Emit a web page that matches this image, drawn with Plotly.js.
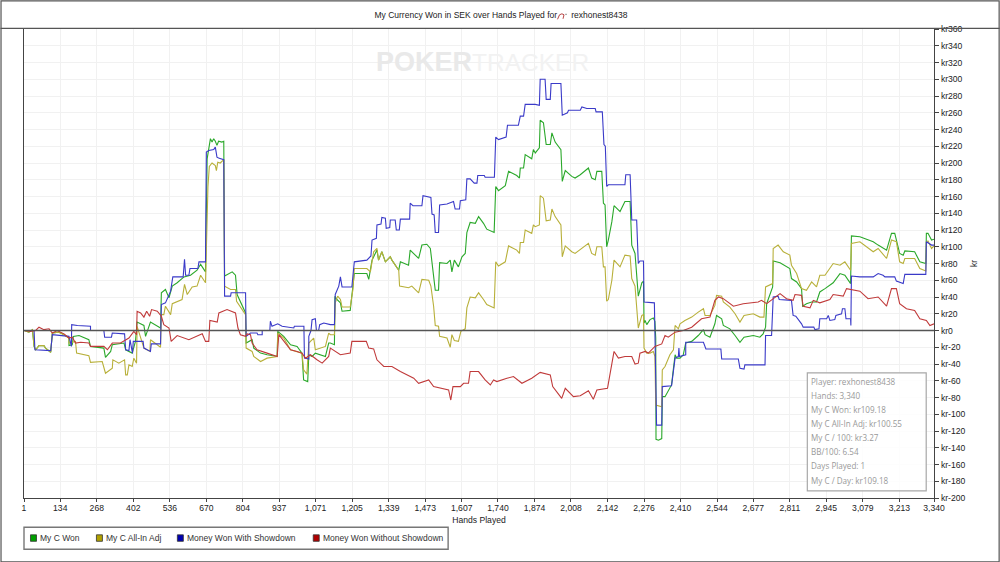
<!DOCTYPE html>
<html><head><meta charset="utf-8">
<script src="https://cdn.plot.ly/plotly-3.0.1.min.js"></script>
<style>html,body{margin:0;padding:0;background:#fff}#c{width:1000px;height:562px}</style>
</head><body><div id="c"></div>
<script>
const titleText = "My Currency Won in SEK over Hands Played for &nbsp;&nbsp;&nbsp;&nbsp; rexhonest8438";
const xTickVals = [1,134,268,402,536,670,804,937,1071,1205,1339,1473,1607,1740,1874,2008,2142,2276,2410,2544,2677,2811,2945,3079,3213,3340];
const xTickText = ["1","134","268","402","536","670","804","937","1,071","1,205","1,339","1,473","1,607","1,740","1,874","2,008","2,142","2,276","2,410","2,544","2,677","2,811","2,945","3,079","3,213","3,340"];
const yTickVals = [-200,-180,-160,-140,-120,-100,-80,-60,-40,-20,0,20,40,60,80,100,120,140,160,180,200,220,240,260,280,300,320,340,360];
const yTickText = ["kr-200","kr-180","kr-160","kr-140","kr-120","kr-100","kr-80","kr-60","kr-40","kr-20","kr0","kr20","kr40","kr60","kr80","kr100","kr120","kr140","kr160","kr180","kr200","kr220","kr240","kr260","kr280","kr300","kr320","kr340","kr360"];
const seriesNames = ["My C Won","My C All-In Adj","Money Won With Showdown","Money Won Without Showdown"];
const statLines = ["Player: rexhonest8438","Hands: 3,340","My C Won: kr109.18","My C All-In Adj: kr100.55","My C / 100: kr3.27","BB/100: 6.54","Days Played: 1","My C / Day: kr109.18"];

const wonHands = [1,19,32,38,44,56,74,80,99,105,129,148,166,166,178,182,203,239,245,294,300,319,325,368,374,386,398,410,416,441,447,465,502,505,520,533,545,563,588,612,636,649,667,673,685,691,697,703,709,715,727,734,737,765,777,783,814,816,838,844,869,893,930,932,954,979,1003,1021,1027,1042,1046,1058,1070,1107,1119,1125,1140,1142,1149,1162,1168,1198,1204,1213,1259,1266,1278,1296,1302,1314,1327,1345,1351,1376,1382,1412,1418,1431,1449,1461,1479,1492,1504,1510,1522,1526,1553,1565,1571,1580,1595,1608,1620,1626,1638,1657,1669,1687,1699,1726,1732,1742,1767,1779,1809,1819,1822,1834,1840,1864,1870,1877,1892,1895,1907,1917,1932,1938,1950,1971,1976,1987,2011,2023,2042,2072,2084,2097,2103,2121,2127,2133,2139,2145,2158,2166,2188,2206,2225,2231,2243,2255,2268,2274,2276,2280,2286,2298,2310,2316,2319,2320,2329,2341,2343,2344,2353,2371,2377,2384,2390,2396,2408,2420,2429,2451,2475,2494,2500,2518,2536,2542,2561,2567,2591,2610,2628,2643,2677,2701,2713,2722,2726,2748,2750,2775,2811,2817,2836,2854,2858,2872,2891,2909,2921,2940,2970,2995,3013,3034,3037,3068,3117,3135,3166,3184,3196,3214,3227,3233,3269,3288,3310,3312,3318,3331,3340];
const wonKr = [0,-2,1,-19,-23,-18,-18,-21,-26,-3,-2,-5,-9,-18,-17,-7,-6,-11,-19,-21,-32,-25,-17,-15,-23,-25,-27,-13,10,6,-7,10,3,45,49,39,53,57,64,66,72,79,70,205,229,225,229,226,221,226,225,226,65,70,66,43,21,-15,-11,-21,-27,-29,-31,-1,-7,-17,-19,-27,-59,-61,-29,-31,-27,-31,-15,-15,-17,41,37,33,23,24,45,68,68,61,84,96,84,94,82,88,84,72,82,78,96,92,86,102,103,98,59,48,48,81,80,84,70,84,76,88,92,117,129,128,136,128,121,117,172,167,173,190,185,182,194,194,210,205,216,212,218,251,248,222,222,236,225,216,178,191,184,182,186,194,182,180,190,190,152,150,100,108,130,149,142,154,154,102,92,41,57,59,9,12,7,13,15,11,-9,-130,-131,-129,-83,-79,-79,-68,-65,-45,-29,-33,-33,-29,-15,-13,-6,1,-5,-8,8,18,14,6,2,-6,-14,-8,-6,-8,-4,4,32,52,83,81,74,62,58,50,29,32,34,34,46,50,57,68,66,56,113,112,106,102,96,116,116,92,90,95,94,82,80,116,116,108,109];

const adjHands = [1,19,32,38,44,56,74,80,99,105,129,148,166,166,190,194,239,245,288,300,325,327,349,370,374,380,386,398,404,414,416,441,463,465,502,505,514,520,539,545,581,590,600,618,636,649,667,676,681,691,703,707,712,721,734,737,759,777,781,814,816,838,844,869,893,930,932,954,979,1021,1027,1039,1046,1064,1070,1107,1119,1125,1140,1143,1152,1162,1168,1198,1208,1213,1259,1272,1284,1296,1302,1314,1327,1345,1351,1376,1379,1412,1424,1449,1461,1486,1494,1504,1510,1522,1526,1553,1565,1571,1580,1595,1604,1620,1626,1638,1657,1669,1687,1699,1726,1732,1742,1767,1779,1809,1819,1822,1834,1840,1864,1870,1877,1892,1895,1907,1917,1932,1938,1950,1971,1976,1987,2011,2023,2042,2072,2084,2097,2103,2121,2127,2133,2139,2145,2158,2166,2188,2206,2225,2231,2243,2255,2268,2274,2276,2286,2298,2310,2316,2319,2341,2343,2353,2371,2384,2390,2402,2408,2426,2451,2475,2494,2500,2518,2536,2542,2561,2567,2591,2610,2628,2643,2677,2701,2716,2722,2748,2750,2768,2787,2811,2817,2836,2854,2872,2891,2909,2921,2940,2970,2995,3013,3034,3037,3068,3117,3135,3166,3184,3202,3214,3227,3233,3269,3288,3310,3312,3318,3331,3340];
const adjKr = [0,-2,1,-19,-23,-18,-18,-21,-26,-3,-2,-5,-9,-15,-13,-27,-30,-38,-37,-51,-45,-35,-39,-35,-53,-53,-41,-43,-33,-39,5,-21,-25,-11,-20,19,19,29,19,32,37,55,43,52,53,66,57,172,196,200,197,191,201,200,204,53,49,49,35,19,-21,-25,-31,-37,-33,-31,-3,-9,-23,-27,-47,-52,-15,-9,-23,-19,-3,-5,-5,33,41,37,28,28,49,74,74,70,94,98,84,94,82,88,84,72,53,51,53,45,61,60,53,29,6,5,-7,-9,-20,-5,-12,-13,-1,2,27,40,39,45,37,31,27,82,77,82,101,96,92,105,105,120,116,126,124,126,161,158,131,132,145,136,126,88,101,94,92,97,104,92,90,100,100,76,76,35,37,60,84,76,90,89,62,53,3,18,19,-21,-27,-27,-25,-31,-89,-91,-47,-43,-29,-23,6,2,8,12,16,22,26,18,18,30,42,41,34,28,20,10,18,20,16,16,52,56,98,102,94,90,78,68,50,48,58,52,66,66,80,78,82,72,104,106,94,98,86,108,106,82,80,86,86,74,71,106,107,98,101];

const sdHands = [1,38,41,99,105,166,175,176,197,245,245,294,297,322,325,370,374,386,390,399,402,438,441,465,468,502,505,520,539,547,585,590,594,606,610,639,643,667,670,679,697,703,709,715,734,737,759,761,814,816,832,856,859,875,875,903,905,911,932,948,991,993,1028,1030,1046,1046,1054,1058,1070,1074,1082,1086,1101,1125,1140,1143,1156,1162,1168,1204,1213,1259,1274,1278,1294,1296,1311,1314,1327,1330,1343,1345,1363,1367,1378,1382,1416,1418,1428,1461,1465,1494,1498,1506,1510,1522,1526,1553,1577,1583,1599,1602,1622,1626,1638,1653,1663,1666,1690,1693,1727,1732,1742,1770,1775,1815,1822,1834,1840,1877,1892,1895,1913,1917,1932,1935,1971,1976,1995,1999,2042,2048,2066,2097,2100,2123,2129,2134,2139,2145,2206,2209,2225,2231,2249,2255,2261,2274,2276,2314,2316,2322,2341,2343,2377,2384,2390,2402,2404,2406,2429,2429,2494,2503,2558,2561,2622,2628,2643,2646,2720,2722,2744,2750,2768,2772,2817,2823,2833,2854,2860,2899,2903,2918,2921,2946,2952,2958,2976,2980,3001,3004,3013,3017,3034,3035,3037,3068,3117,3135,3153,3160,3196,3202,3227,3233,3310,3312,3331,3340];
const sdKr = [0,0,-23,-24,-5,-7,-19,7,6,5,0,0,-8,-8,-3,-4,-23,-24,-11,-27,-13,-13,-21,-25,-16,-16,31,33,47,64,64,85,66,66,74,74,82,82,213,215,216,219,207,206,204,41,41,45,45,-7,-3,-3,-5,-5,0,0,11,5,8,5,3,5,5,-33,-34,-7,0,13,14,0,0,7,9,7,7,43,53,64,52,52,82,84,89,108,110,126,127,135,134,122,123,132,132,120,120,133,133,152,149,149,161,159,139,138,117,117,150,151,154,145,145,155,156,181,181,176,176,185,185,183,183,231,228,231,245,245,256,256,270,270,269,300,300,276,276,295,295,257,260,263,263,267,265,265,261,261,222,220,172,174,174,186,186,132,132,80,83,83,34,33,-3,-113,-113,-67,-66,-45,-33,-31,-21,-31,-29,-14,-14,-22,-22,-34,-34,-45,-46,-41,-41,-6,-6,40,41,37,36,18,17,8,4,4,1,2,14,14,18,12,13,18,20,26,26,14,14,6,65,64,64,68,66,64,64,59,56,67,67,106,102,102];

const nsdHands = [1,25,44,56,74,93,105,123,148,166,178,190,209,239,245,294,307,325,355,386,404,414,416,429,441,451,462,469,490,505,514,533,541,563,606,655,667,679,683,710,716,746,777,786,795,814,820,832,838,856,893,930,936,954,979,1003,1021,1034,1052,1076,1095,1119,1125,1162,1198,1204,1257,1266,1284,1296,1321,1351,1382,1431,1449,1486,1504,1559,1567,1575,1602,1614,1632,1638,1669,1693,1712,1724,1736,1773,1797,1828,1864,1895,1932,1941,1974,1987,2017,2042,2072,2090,2103,2142,2166,2182,2206,2231,2243,2255,2261,2280,2292,2316,2341,2353,2365,2390,2420,2451,2487,2518,2536,2549,2567,2604,2640,2695,2707,2726,2750,2775,2799,2823,2830,2854,2860,2885,2897,2921,2958,2970,3007,3019,3068,3098,3135,3166,3184,3202,3214,3239,3269,3288,3312,3325,3340];
const nsdKr = [0,-1,0,4,1,2,-3,0,-4,-9,-8,-15,-14,-15,-19,-19,-23,-15,-15,-9,-1,-5,23,21,16,23,17,25,23,17,7,3,-13,-6,-11,-4,-13,-13,12,10,21,25,21,3,-5,-7,-4,-5,-15,-23,-27,-31,-5,-13,-23,-25,-27,-33,-29,-35,-39,-31,-21,-29,-27,-13,-13,-21,-22,-35,-43,-43,-49,-57,-63,-59,-67,-71,-83,-67,-67,-63,-63,-49,-49,-59,-65,-59,-61,-57,-55,-63,-57,-50,-53,-67,-81,-69,-79,-78,-72,-82,-71,-69,-25,-33,-31,-31,-40,-39,-27,-25,-27,-19,-16,-6,-8,-2,0,4,14,16,36,40,38,29,32,34,36,32,38,44,38,36,43,42,29,27,36,33,37,43,41,50,47,38,40,29,50,50,32,26,24,14,12,6,8];

const lineColors = ["#2aa82a","#b8b03a","#3a3ac8","#c03a3a"];
const swatchColors = ["#00a000","#b0a000","#0000b0","#b00000"];
const hands = [wonHands,adjHands,sdHands,nsdHands];
const krs = [wonKr,adjKr,sdKr,nsdKr];

const W=1000,H=562,L=23.5,R=934.3,T=28.7,B=497.7;
const px=v=>(v-L)/(R-L), py=v=>(B-v)/(B-T);
const traces = seriesNames.map((n,i)=>({type:"scatter",mode:"lines",name:n,x:hands[i],y:krs[i],line:{color:lineColors[i],width:1.1},showlegend:false,hoverinfo:"skip"}));

const shapes=[
 {type:"line",xref:"paper",yref:"y",x0:0,x1:1,y0:0,y1:0,line:{color:"#555",width:1.6},layer:"above"},
 {type:"line",xref:"paper",yref:"paper",x0:px(0),x1:px(1000),y0:py(28),y1:py(28),line:{color:"#555",width:1.2}},
 {type:"rect",xref:"paper",yref:"paper",x0:px(0.5),x1:px(999.5),y0:py(0.5),y1:py(561.5),line:{color:"#555",width:1.2}},
 {type:"rect",xref:"paper",yref:"paper",x0:px(807.5),x1:px(926.5),y0:py(372.5),y1:py(490.5),fillcolor:"rgba(255,255,255,0.82)",line:{color:"#a8a8a8",width:1.2},layer:"above"},
 {type:"rect",xref:"paper",yref:"paper",x0:px(23.5),x1:px(448),y0:py(527),y1:py(549),fillcolor:"#fff",line:{color:"#777",width:1.4}},
 {type:"path",xref:"paper",yref:"paper",path:`M ${px(557.5)} ${py(19)} L ${px(559.5)} ${py(14.5)} Q ${px(562)} ${py(12.5)} ${px(564)} ${py(14.5)} L ${px(563)} ${py(18.5)}`,line:{color:"#b03030",width:0.9}},
 {type:"line",xref:"paper",yref:"paper",x0:px(565.5),x1:px(566.5),y0:py(14),y1:py(14),line:{color:"#333",width:1}},
];
const legendX=[30,96,177,313], legendTextX=[39,105,186,322];
seriesNames.forEach((n,i)=>shapes.push({type:"rect",xref:"paper",yref:"paper",x0:px(legendX[i]),x1:px(legendX[i]+6),y0:py(534.5),y1:py(541),fillcolor:swatchColors[i],line:{color:"#333",width:0.8}}));

const annotations=[
 {xref:"paper",yref:"paper",x:px(374),y:py(62),xanchor:"left",yanchor:"middle",text:"POKER",showarrow:false,font:{family:"Liberation Sans",size:27,color:"#e9e9e9",weight:700}},
 {xref:"paper",yref:"paper",x:px(470),y:py(62),xanchor:"left",yanchor:"middle",text:"TRACKER",showarrow:false,font:{family:"Liberation Sans",size:24.5,color:"#f2f2f2"}},
];
seriesNames.forEach((n,i)=>annotations.push({xref:"paper",yref:"paper",x:px(legendTextX[i]),y:py(538),xanchor:"left",yanchor:"middle",text:n,showarrow:false,borderpad:0,font:{family:"Liberation Sans",size:8.5,color:"#333"}}));
statLines.forEach((s,i)=>annotations.push({xref:"paper",yref:"paper",x:px(810.5),y:py(381+i*14.1),xanchor:"left",yanchor:"middle",text:s,showarrow:false,borderpad:0,font:{family:"Open Sans",size:8.1,color:"#999"}}));

Plotly.newPlot("c",traces,{
 width:W,height:H,paper_bgcolor:"#fff",plot_bgcolor:"#fff",showlegend:false,
 margin:{l:L,r:W-R,t:T,b:H-B,pad:0},
 title:{text:titleText,x:0.501,xref:"container",xanchor:"center",y:0.973,yanchor:"middle",font:{family:"Liberation Sans",size:8.5,color:"#222"}},
 xaxis:{range:[1,3340],tickmode:"array",tickvals:xTickVals,ticktext:xTickText,ticks:"outside",ticklen:3,tickcolor:"#444",showgrid:true,gridcolor:"#f1f1f1",gridwidth:1,zeroline:false,showline:true,linecolor:"#444",linewidth:1.2,ticklabelstandoff:-2,tickfont:{family:"Liberation Sans",size:8.6,color:"#222"},title:{text:"Hands Played",standoff:5,font:{family:"Liberation Sans",size:8.6,color:"#222"}}},
 yaxis:{side:"right",range:[-200,360],tickmode:"array",tickvals:yTickVals,ticktext:yTickText,ticks:"outside",ticklen:4,tickcolor:"#444",showgrid:true,gridcolor:"#f1f1f1",gridwidth:1,zeroline:false,showline:true,mirror:true,linecolor:"#444",linewidth:1.2,tickfont:{family:"Liberation Sans",size:8.6,color:"#222"},title:{text:"kr",standoff:6,font:{family:"Liberation Sans",size:8.6,color:"#222"}}},
 shapes,annotations
},{staticPlot:true,displayModeBar:false});
</script></body></html>
